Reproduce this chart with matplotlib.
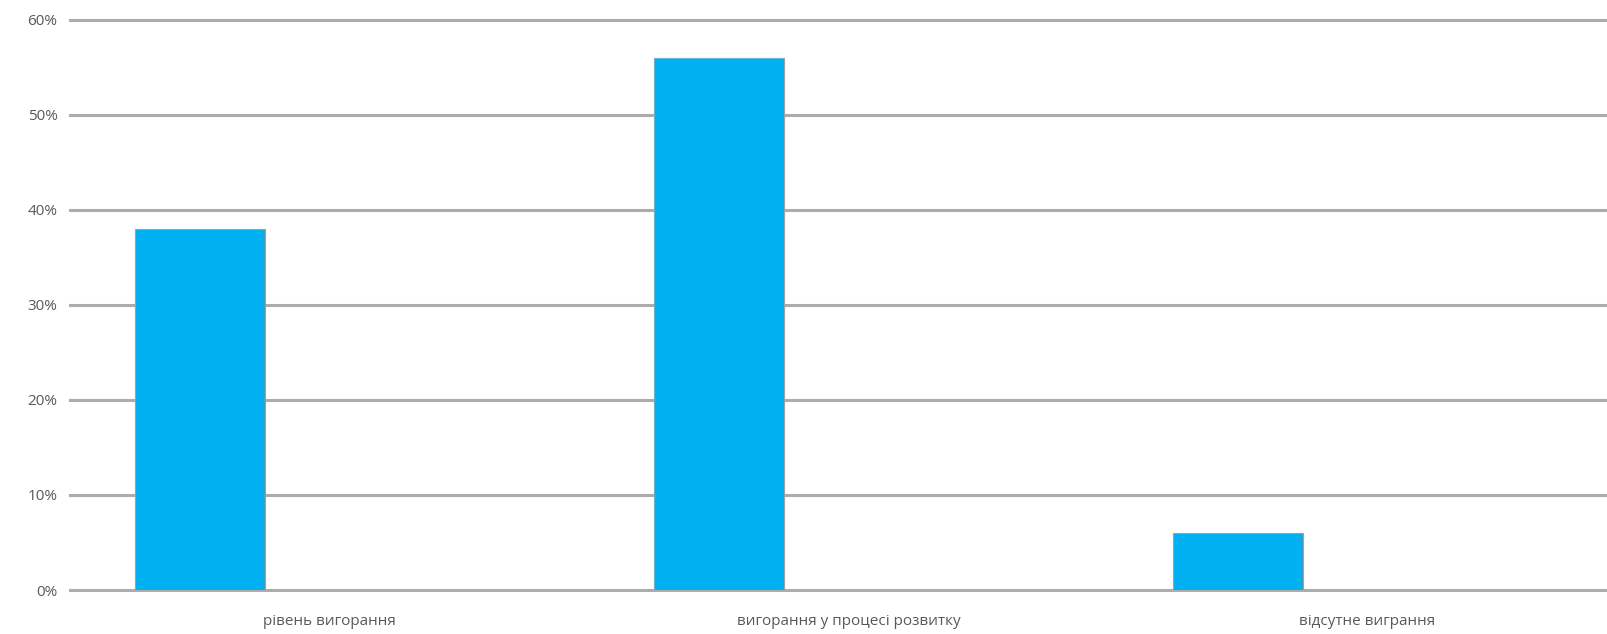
import numpy as np
import matplotlib.pyplot as plt
from matplotlib.ticker import PercentFormatter

categories = ["рівень вигорання", "вигорання у процесі розвитку", "відсутне виграння"]
values = [0.38, 0.56, 0.06]
y_ticks = [0, 0.1, 0.2, 0.3, 0.4, 0.5, 0.6]

plt.rcParams["font.family"] = ["Open Sans", "DejaVu Sans"]

fig = plt.figure(figsize=(16.08, 6.34), dpi=100)
ax = fig.add_axes([70 / 1608, 44 / 634, 1538 / 1608, 570.5 / 634])

x = np.arange(len(categories))
# excel-style layout: first of three series slots in each category
ax.bar(x - 0.25, values, width=0.25, color="#00b0f0", edgecolor="#a0a0a0",
       linewidth=0.8, zorder=3)

ax.set_xlim(-0.5, 2.5 - 19 / 519)
ax.set_ylim(0, 0.6)
ax.set_yticks(y_ticks)
ax.yaxis.set_major_formatter(PercentFormatter(1.0, decimals=0))
ax.set_xticks(x)
ax.set_xticklabels(categories)

ax.grid(axis="y", color="#acacac", linewidth=2.2, zorder=0)
for s in ax.spines.values():
    s.set_visible(False)
ax.tick_params(axis="both", length=0, colors="#595959", labelsize=11)
ax.tick_params(axis="y", pad=9)
ax.tick_params(axis="x", pad=17)
for gl in ax.get_ygridlines():
    gl.set_clip_on(False)

fig.savefig("out.png", dpi=100)
